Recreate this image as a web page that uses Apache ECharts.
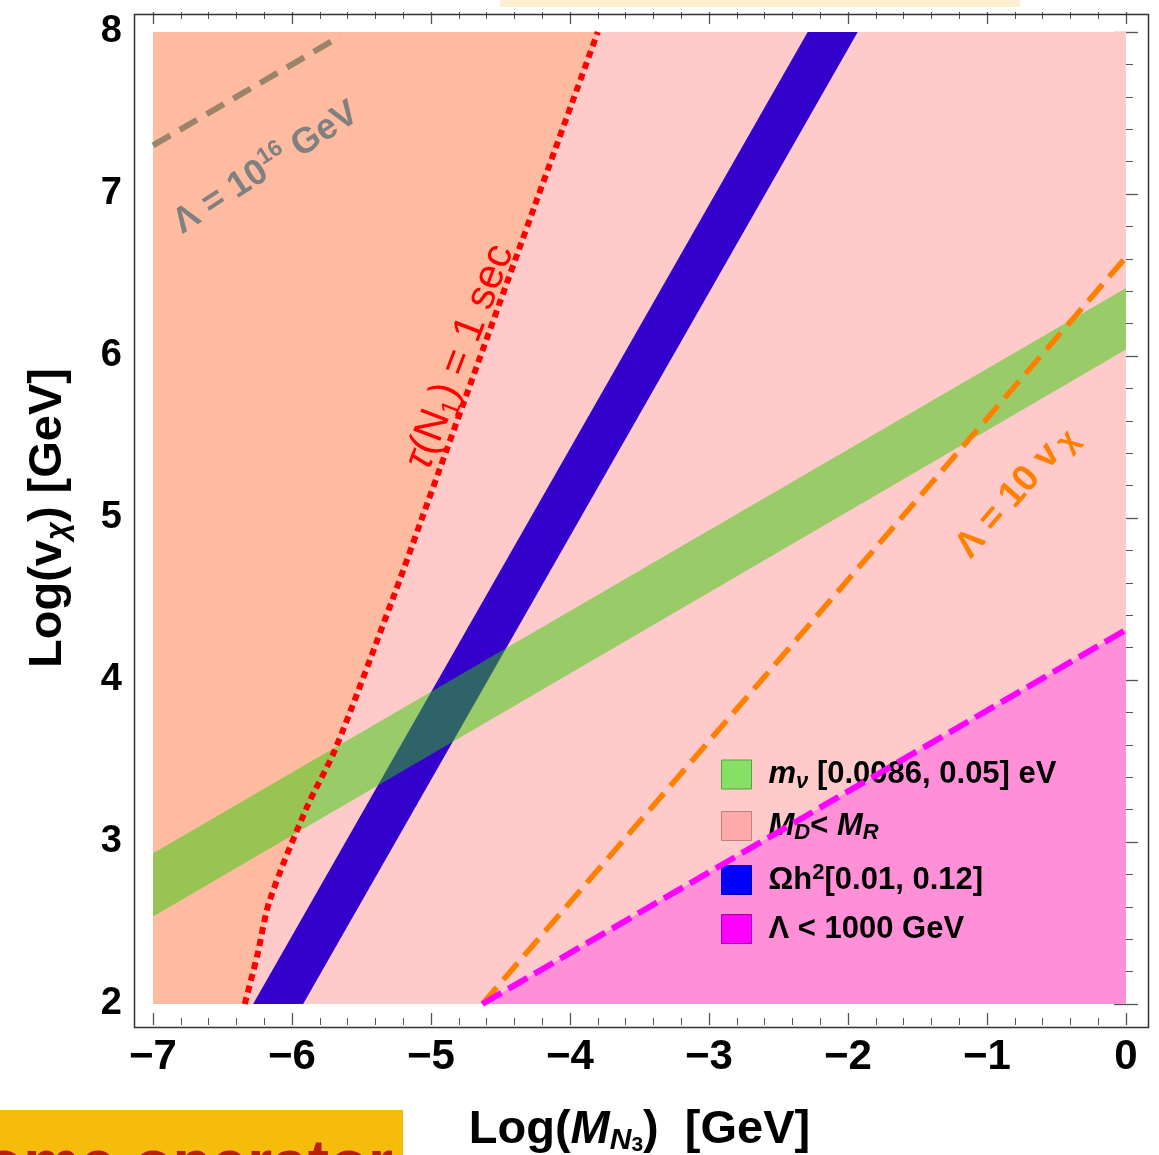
<!DOCTYPE html>
<html>
<head>
<meta charset="utf-8">
<script src="https://cdn.jsdelivr.net/npm/echarts@6.0.0/dist/echarts.min.js"></script>
<style>
  html, body { margin: 0; padding: 0; background: #fff; }
  #chart { width: 1159px; height: 1155px; }
</style>
</head>
<body>
<div id="chart"></div>
<script>
// ---- axis ranges ----
const xRange = [-7, 0];          // Log(M_N3) [GeV]
const yRange = [2, 8];           // Log(v_chi) [GeV]
const tickStep = 1;

// ---- regions and contours (x = Log M_N3, y = Log v_chi) ----
// M_D < M_R holds over the whole scanned plane
const mdmrRegion = [[-7, 2], [0, 2], [0, 8], [-7, 8]];
// tau(N1) = 1 sec contour, from bottom to top
const tauCurve = [[-6.34, 2.0], [-6.25, 2.30], [-6.16, 2.64], [-5.89, 3.22], [-5.69, 3.57],
                  [-5.28, 4.49], [-5.06, 5.01], [-4.24, 6.96], [-3.80, 8.0]];
// relic density band Omega h^2 in [0.01, 0.12]: left and right edges
const omegaLeft  = [[-6.28, 2], [-2.29, 8]];
const omegaRight = [[-5.92, 2], [-1.93, 8]];
// light neutrino mass band m_nu in [0.0086, 0.05] eV: lower and upper edges
const mnuLower = [[-7, 2.54], [0, 6.04]];
const mnuUpper = [[-7, 2.93], [0, 6.42]];
// Lambda = 1000 GeV line (region below it excluded)
const lam1000Line = [[-4.63, 2], [0, 4.31]];
// Lambda = 10 v_chi line
const lam10vLine = [[-4.63, 2], [0, 6.61]];
// Lambda = 10^16 GeV line
const lam1e16Line = [[-7, 7.30], [-5.65, 7.975]];

const FONT = 'Liberation Sans, Arial, Helvetica, sans-serif';

function polygon(name, pts, fill, z, opacity) {
  return {
    type: 'custom', name: name, coordinateSystem: 'cartesian2d',
    data: pts, encode: { x: 0, y: 1 }, silent: true, z: z,
    itemStyle: { color: fill },
    renderItem: function (params, api) {
      if (params.dataIndex !== 0) return null;
      return {
        type: 'polygon',
        shape: { points: pts.map(function (p) { return api.coord(p); }), smooth: 0 },
        style: { fill: fill, opacity: opacity == null ? 1 : opacity }
      };
    }
  };
}

function curve(pts, color, width, dash, z, smooth) {
  return {
    type: 'line', data: pts, symbol: 'none', silent: true, clip: false, z: z,
    smooth: smooth || false,
    lineStyle: { color: color, width: width, type: dash, cap: 'butt' }
  };
}

const tauRegion = tauCurve.concat([[-7, 8], [-7, 2]]);
const omegaBand = omegaLeft.concat(omegaRight.slice().reverse());
const mnuBand = mnuLower.concat(mnuUpper.slice().reverse());
const lam1000Region = lam1000Line.concat([[0, 2]]);

const legendLabels = {
  mnu:   '{gap|}{bi|m}{subi|ν}{b| [0.0086, 0.05] eV}',
  mdmr:  '{gap|}{bi|M}{subi|D}{b|< }{bi|M}{subi|R}',
  omega: '{gap|}{b|Ωh}{sup|2}{b|[0.01, 0.12]}',
  lam:   '{gap|}{b|Λ < 1000 GeV}'
};

const minus = function (v) { return v < 0 ? '\u2212' + Math.abs(v) : String(v); };

const tickStyle = {
  axisLine: { show: false },
  axisTick: { show: true, inside: true, length: 12, lineStyle: { color: '#555', width: 1.3 } },
  minorTick: { show: true, splitNumber: 5, length: 7, lineStyle: { color: '#555', width: 1 } },
  splitLine: { show: false },
  minorSplitLine: { show: false }
};

const chart = echarts.init(document.getElementById('chart'), null, { renderer: 'canvas' });

chart.setOption({
  backgroundColor: '#ffffff',
  animation: false,
  grid: { left: 153, top: 32, right: 33, bottom: 151, containLabel: false, outerBoundsMode: 'none' },
  xAxis: [
    Object.assign({
      type: 'value', position: 'bottom', min: xRange[0], max: xRange[1], interval: tickStep, offset: 21,
      axisLabel: { formatter: minus, fontSize: 42, fontWeight: 'bold', color: '#000', fontFamily: FONT, margin: 11 },
      name: '{b|Log(}{bi|M}{sub|N}{sub2|3}{b|)  [GeV]}',
      nameLocation: 'middle', nameGap: 79,
      nameTextStyle: {
        rich: {
          b: { fontSize: 47, fontWeight: 'bold', fontFamily: FONT, color: '#000', lineHeight: 52 },
          bi: { fontSize: 47, fontWeight: 'bold', fontStyle: 'italic', fontFamily: FONT, color: '#000', lineHeight: 52 },
          sub: { fontSize: 30, fontWeight: 'bold', fontStyle: 'italic', fontFamily: FONT, color: '#000', lineHeight: 28, verticalAlign: 'bottom' },
          sub2: { fontSize: 21, fontWeight: 'bold', fontFamily: FONT, color: '#000', lineHeight: 10, verticalAlign: 'bottom' }
        }
      }
    }, tickStyle),
    Object.assign({
      type: 'value', position: 'top', min: xRange[0], max: xRange[1], interval: tickStep, offset: 20,
      axisLabel: { show: false }
    }, tickStyle)
  ],
  yAxis: [
    Object.assign({
      type: 'value', position: 'left', min: yRange[0], max: yRange[1], interval: tickStep, offset: 21,
      axisLabel: { fontSize: 38, fontWeight: 'bold', color: '#000', fontFamily: FONT, margin: 10 },
      name: '{b|Log(v}{sub|χ}{b|) [GeV]}',
      nameLocation: 'middle', nameGap: 58, nameRotate: 90,
      nameTextStyle: {
        rich: {
          b: { fontSize: 47, fontWeight: 'bold', fontFamily: FONT, color: '#000', lineHeight: 52 },
          sub: { fontSize: 31, fontWeight: 'bold', fontStyle: 'italic', fontFamily: FONT, color: '#000', lineHeight: 32, verticalAlign: 'bottom' }
        }
      }
    }, tickStyle),
    Object.assign({
      type: 'value', position: 'right', min: yRange[0], max: yRange[1], interval: tickStep, offset: 21,
      axisLabel: { show: false }
    }, tickStyle)
  ],
  legend: {
    orient: 'vertical', left: 721, top: 759, padding: 0,
    itemWidth: 30, itemHeight: 29, itemGap: 18,
    selectedMode: false,
    data: [
      { name: 'mnu', icon: 'rect', itemStyle: { color: '#86E066', borderColor: '#5E9E48', borderWidth: 1, opacity: 1 } },
      { name: 'mdmr', icon: 'rect', itemStyle: { color: '#FFAAAA', borderColor: '#C08080', borderWidth: 1 } },
      { name: 'omega', icon: 'rect', itemStyle: { color: '#0000FF', borderColor: '#0000A0', borderWidth: 1 } },
      { name: 'lam', icon: 'rect', itemStyle: { color: '#FF00FF', borderColor: '#A000A0', borderWidth: 1 } }
    ],
    formatter: function (name) { return legendLabels[name]; },
    textStyle: {
      rich: {
        gap: { width: 12, lineHeight: 36 },
        b: { fontSize: 31, fontWeight: 'bold', fontFamily: FONT, color: '#000', lineHeight: 36 },
        bi: { fontSize: 31, fontWeight: 'bold', fontStyle: 'italic', fontFamily: FONT, color: '#000', lineHeight: 36 },
        subi: { fontSize: 22, fontWeight: 'bold', fontStyle: 'italic', fontFamily: FONT, color: '#000', lineHeight: 12, verticalAlign: 'bottom' },
        sup: { fontSize: 22, fontWeight: 'bold', fontFamily: FONT, color: '#000', lineHeight: 12, verticalAlign: 'top' }
      }
    }
  },
  series: [
    polygon('mdmr', mdmrRegion, '#FFCACA', 1),
    polygon('tau', tauRegion, '#FEBBA0', 2),
    polygon('lam', lam1000Region, '#FF90D8', 2),
    polygon('omega', omegaBand, '#3300CC', 3),
    polygon('mnu', mnuBand, 'rgb(42,206,0)', 4, 0.48),
    curve(lam1e16Line, '#9C8468', 6, [20, 11], 6),
    curve(tauCurve, '#FF0000', 6, [7, 5], 6, 0.3),
    curve(lam10vLine, '#FF8000', 5.5, [22, 10], 6),
    curve(lam1000Line, '#FF00FF', 6, [22, 8], 7)
  ],
  graphic: [
    // plot frame
    { type: 'rect', left: 132, top: 12, z: 10, silent: true,
      shape: { width: 1014, height: 1013 },
      style: { fill: 'none', stroke: '#333', lineWidth: 1.5 } },
    // contour labels
    { type: 'text', x: 266, y: 168, rotation: 33 * Math.PI / 180, z: 20, silent: true,
      style: {
        text: '{a|Λ = 10}{s|16}{a| GeV}', align: 'center', verticalAlign: 'middle',
        rich: {
          a: { fontSize: 36, fontWeight: 'bold', fontFamily: FONT, fill: '#808080', lineHeight: 44 },
          s: { fontSize: 23, fontWeight: 'bold', fontFamily: FONT, fill: '#808080', lineHeight: 24, verticalAlign: 'top' }
        }
      } },
    { type: 'text', x: 460, y: 357, rotation: 69 * Math.PI / 180, z: 20, silent: true,
      style: {
        text: '{i|τ}{a|(N}{s|1}{a|) = 1 sec}', align: 'center', verticalAlign: 'middle',
        rich: {
          a: { fontSize: 42, fontFamily: FONT, fill: '#FF0000', lineHeight: 48 },
          i: { fontSize: 42, fontStyle: 'italic', fontFamily: FONT, fill: '#FF0000', lineHeight: 48 },
          s: { fontSize: 26, fontFamily: FONT, fill: '#FF0000', lineHeight: 26, verticalAlign: 'bottom' }
        }
      } },
    { type: 'text', x: 1016, y: 492, rotation: 49 * Math.PI / 180, z: 20, silent: true,
      style: {
        text: '{a|Λ = 10 v}{s|χ}', align: 'center', verticalAlign: 'middle',
        rich: {
          a: { fontSize: 37, fontWeight: 'bold', fontFamily: FONT, fill: '#FF8000', lineHeight: 42 },
          s: { fontSize: 30, fontWeight: 'bold', fontFamily: FONT, fill: '#FF8000', lineHeight: 34, verticalAlign: 'bottom', padding: [0, 0, 0, 6] }
        }
      } },
    // page furniture around the figure
    { type: 'rect', left: 500, top: 0, z: 0, silent: true,
      shape: { width: 520, height: 7 }, style: { fill: '#FDF0D2' } },
    { type: 'rect', left: 0, top: 1110, z: 0, silent: true,
      shape: { width: 403, height: 45 }, style: { fill: '#F6BC0B' } },
    { type: 'text', x: 393, y: 1167, z: 5, silent: true,
      style: { text: 'ome operator', align: 'right', verticalAlign: 'middle',
               fontSize: 64, fontWeight: 'bold', fontFamily: FONT, fill: '#BB1E0A' } }
  ]
});
</script>
</body>
</html>
